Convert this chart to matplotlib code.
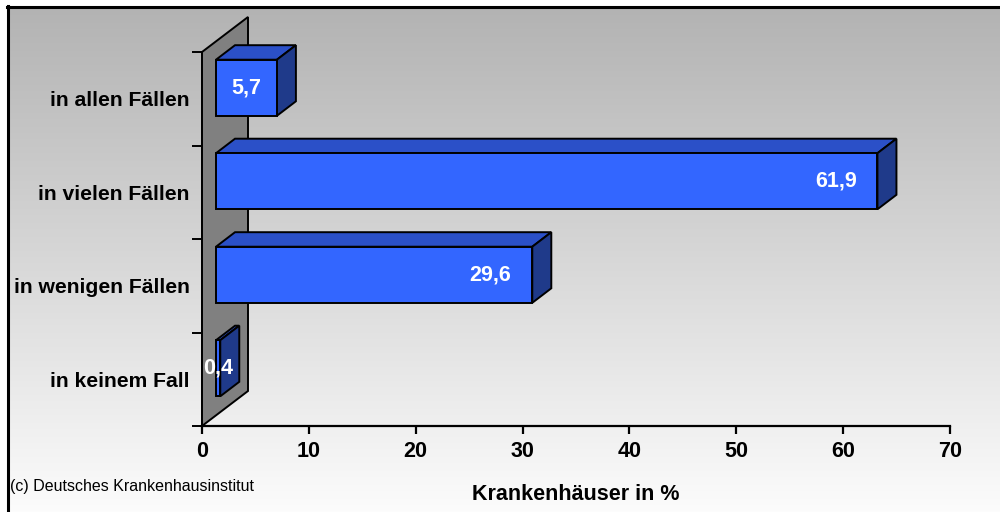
import numpy as np
import matplotlib.pyplot as plt
from matplotlib.patches import Polygon

plt.rcParams['font.family'] = ['Liberation Sans', 'DejaVu Sans']

categories = ['in keinem Fall', 'in wenigen Fällen', 'in vielen Fällen', 'in allen Fällen']
values = [0.4, 29.6, 61.9, 5.7]
value_labels = ['0,4', '29,6', '61,9', '5,7']
xticks = [0, 10, 20, 30, 40, 50, 60, 70]

W, H = 1000, 512
fig = plt.figure(figsize=(W / 100, H / 100), dpi=100)

# background gradient + frame
bg = fig.add_axes([0, 0, 1, 1])
grad = np.linspace(178, 252, 256)[:, None] * np.ones((1, 2))
bg.imshow(np.dstack([grad, grad, grad]).astype(np.uint8), aspect='auto',
          extent=[0, W, H, 0], interpolation='bilinear')
bg.add_patch(plt.Rectangle((0, 0), W, 6, color='white', zorder=2))
bg.add_patch(plt.Rectangle((0, 0), 7, H, color='white', zorder=2))
bg.plot([7, W], [6.5, 6.5], color='black', lw=2.2, zorder=3)
bg.plot([7.5, 7.5], [6, H], color='black', lw=2.2, zorder=3)
bg.set_xlim(0, W)
bg.set_ylim(H, 0)
bg.axis('off')

# plot area: x 202..950 px, y 426..52 px
ax = fig.add_axes([202 / W, 1 - 426 / H, 748 / W, 374 / H])
ax.set_xlim(0, 70)
ax.set_ylim(0, 4)
ax.patch.set_alpha(0)
for s in ['top', 'right']:
    ax.spines[s].set_visible(False)
ax.spines['bottom'].set_linewidth(1.6)
ax.spines['bottom'].set_zorder(10)

px_x = 70 / 748
px_y = 4 / 374

# back wall
wdx, wdy = 46 * px_x, 35 * px_y
wall = Polygon([(0, 0), (0, 4), (wdx, 4 + wdy), (wdx, wdy)], closed=True,
               facecolor='#808080', edgecolor='black', lw=1.4, clip_on=False, zorder=1)
ax.add_patch(wall)

# bars
fdx, fdy = 14 * px_x, 11 * px_y
bdx, bdy = 19 * px_x, 14.5 * px_y
h = 0.6
for i, (v, lab) in enumerate(zip(values, value_labels)):
    x0, x1 = fdx, v + fdx
    y0 = i + 0.5 - h / 2 + fdy
    y1 = y0 + h
    front = Polygon([(x0, y0), (x1, y0), (x1, y1), (x0, y1)], closed=True,
                    facecolor='#3366ff', edgecolor='black', lw=1.4, clip_on=False, zorder=3)
    top = Polygon([(x0, y1), (x1, y1), (x1 + bdx, y1 + bdy), (x0 + bdx, y1 + bdy)], closed=True,
                  facecolor='#2b50c8', edgecolor='black', lw=1.4, clip_on=False, zorder=3)
    side = Polygon([(x1, y0), (x1, y1), (x1 + bdx, y1 + bdy), (x1 + bdx, y0 + bdy)], closed=True,
                   facecolor='#1f3a8a', edgecolor='black', lw=1.4, clip_on=False, zorder=3)
    ax.add_patch(top)
    ax.add_patch(side)
    ax.add_patch(front)
    lx = max(v - 3.9, v / 2) + fdx
    ax.text(lx, (y0 + y1) / 2, lab, color='white', fontsize=15.5, fontweight='bold',
            ha='center', va='center', zorder=5, clip_on=False)

# axes ticks
ax.set_xticks(xticks)
ax.set_xticklabels([str(t) for t in xticks], fontsize=15.5, fontweight='bold')
ax.tick_params(axis='x', length=6, width=1.6, pad=5)
ax.set_yticks(range(5))
ax.set_yticklabels([])
ax.tick_params(axis='y', length=7, width=1.4)
ax.set_yticks([i + 0.5 for i in range(4)], minor=True)
ax.set_yticklabels(categories, minor=True, fontsize=15.2, fontweight='bold')
ax.tick_params(axis='y', which='minor', length=0, pad=9)
ax.spines['left'].set_linewidth(1.4)
ax.spines['left'].set_zorder(2)

ax.set_xlabel('Krankenhäuser in %', fontsize=15.5, fontweight='bold', labelpad=16)

fig.text(10 / W, 1 - 486 / H, '(c) Deutsches Krankenhausinstitut', fontsize=11.5,
         va='center')

fig.savefig('out.png', dpi=100)
